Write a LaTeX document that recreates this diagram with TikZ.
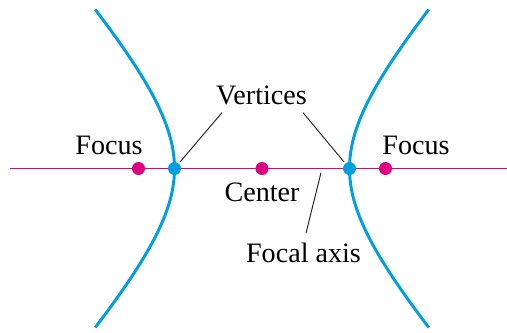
\documentclass[tikz,border=0pt]{standalone}
\usepackage{fontspec}
\setmainfont{Liberation Serif}
\usetikzlibrary{calc}
\definecolor{curveblue}{RGB}{0,160,222}
\definecolor{axismagenta}{RGB}{222,0,128}

\begin{document}
\begin{tikzpicture}[x=0.02cm, y=0.02cm,
    labeltext/.style={font=\fontsize{16}{19}\selectfont, inner sep=0pt},
    leader/.style={draw=black!85, line width=0.55pt},
    dot/.style={circle, fill=#1, inner sep=0pt, minimum size=0.26cm}]
    \pgfmathsetmacro{\semimajor}{87.5} % center to vertex
    \pgfmathsetmacro{\semiminor}{98}
    \pgfmathsetmacro{\focal}{123.5} % center to focus

    \useasboundingbox (-262,-163.5) rectangle (245,168.5);

    \coordinate (O) at (0, 0);
    \coordinate (axL) at (-252, 0);
    \coordinate (axR) at (245, 0);

    % focal axis and the two branches
    \draw [axismagenta, line width=0.85pt] (axL) -- (axR);
    \draw [curveblue, line width=1.7pt] plot [domain=-159:159, samples=81, variable=\t]
        ({-\semimajor*sqrt(1+(\t/\semiminor)^2)}, \t);
    \draw [curveblue, line width=1.7pt] plot [domain=-159:159, samples=81, variable=\t]
        ({\semimajor*sqrt(1+(\t/\semiminor)^2)}, \t);

    \node [dot=axismagenta] (F1) at (-\focal, 0) {};
    \node [dot=axismagenta] (F2) at (\focal, 0) {};
    \node [dot=axismagenta] (C) at (O) {};
    \node [dot=curveblue] (V1) at (-\semimajor, 0) {};
    \node [dot=curveblue] (V2) at (\semimajor, 0) {};

    \node [labeltext, anchor=base] (focusL) at (-153, 14.5) {Focus};
    \node [labeltext, anchor=base] (focusR) at (154, 14.5) {Focus};
    \node [labeltext, anchor=base] (vert) at (-0.5, 64.5) {Vertices};
    \node [labeltext, anchor=base] (cent) at (0, -32.5) {Center};
    \node [labeltext, anchor=base] (faxis) at (41.5, -93.5) {Focal axis};

    \coordinate (vtl) at ($(vert.south west) + (6, -8)$);
    \coordinate (vtr) at ($(vert.south east) + (-4, -8)$);
    \coordinate (axpt) at (59, -4.2);
    \coordinate (fatop) at ($(faxis.north) + (2.5, 9)$);

    \draw [leader, shorten <=1pt] (V1) -- (vtl);
    \draw [leader, shorten <=1pt] (V2) -- (vtr);
    \draw [leader] (axpt) -- (fatop);
\end{tikzpicture}
\end{document}
